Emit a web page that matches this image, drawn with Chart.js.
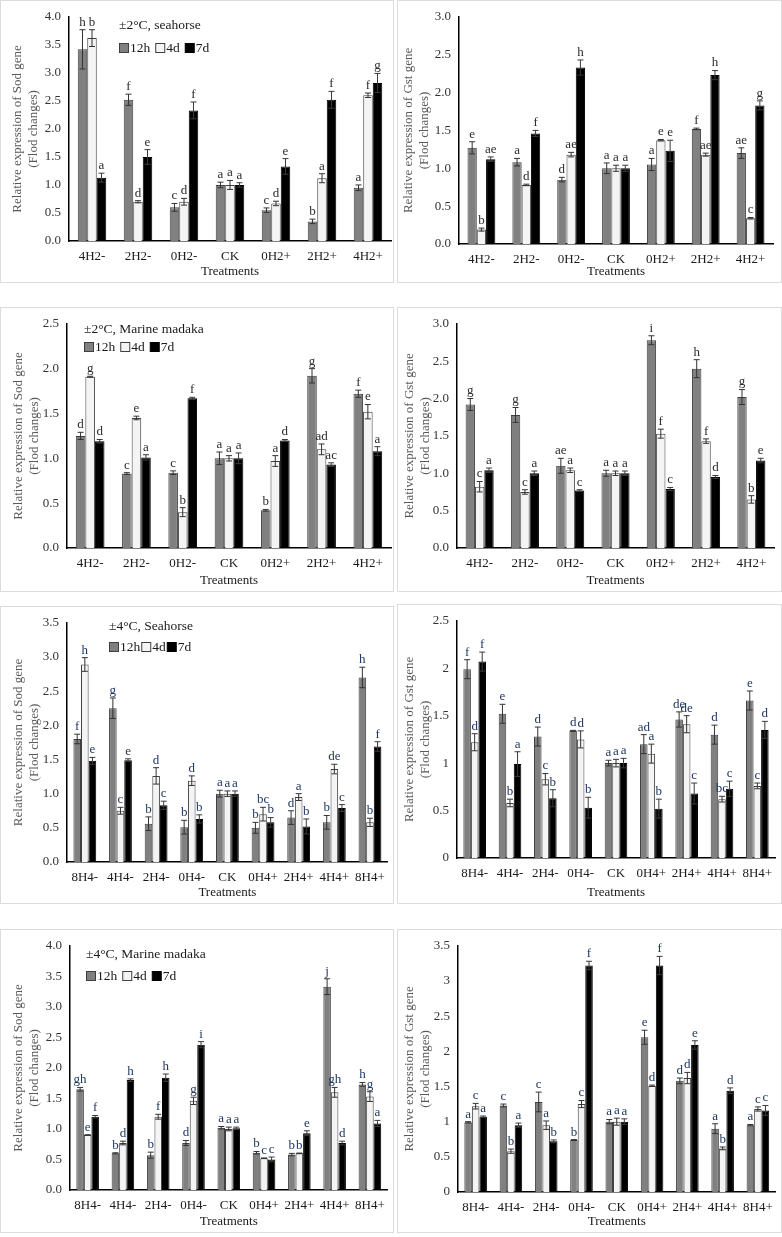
<!DOCTYPE html>
<html>
<head>
<meta charset="utf-8">
<script src="https://cdn.jsdelivr.net/npm/chart.js@4.4.1/dist/chart.umd.min.js"></script>
<style>
  html, body { margin: 0; padding: 0; background: #fff; }
  body { width: 782px; height: 1237px; position: relative; overflow: hidden; }
  .panel { position: absolute; box-sizing: border-box; border: 1px solid #dcdcdc; background: #fff; }
  .panel canvas { display: block; }
</style>
</head>
<body>
<div id="figure"></div>
<script>
// categories
const cats2 = ['4H2-', '2H2-', '0H2-', 'CK', '0H2+', '2H2+', '4H2+'];
const cats4 = ['8H4-', '4H4-', '2H4-', '0H4-', 'CK', '0H4+', '2H4+', '4H4+', '8H4+'];
const seriesNames = ['12h', '4d', '7d'];

// ±2°C seahorse, Sod  (rows: 12h, 4d, 7d)
const sodSh2Vals = [[3.42, 2.52, 0.60, 1.00, 0.55, 0.35, 0.95], [3.62, 0.70, 0.70, 1.00, 0.67, 1.12, 2.60], [1.13, 1.50, 2.33, 1.00, 1.33, 2.52, 2.82]];
const sodSh2Errs = [[0.35, 0.10, 0.07, 0.05, 0.04, 0.04, 0.05], [0.15, 0.02, 0.06, 0.08, 0.04, 0.08, 0.04], [0.08, 0.13, 0.15, 0.04, 0.14, 0.15, 0.17]];
const sodSh2Lets = [['h', 'f', 'c', 'a', 'c', 'b', 'a'], ['b', 'd', 'd', 'a', 'd', 'a', 'f'], ['a', 'e', 'f', 'a', 'e', 'f', 'g']];

// ±2°C seahorse, Gst
const gstSh2Vals = [[1.27, 1.08, 0.85, 1.00, 1.05, 1.52, 1.20], [0.19, 0.78, 1.18, 1.00, 1.37, 1.18, 0.34], [1.12, 1.46, 2.33, 1.00, 1.23, 2.23, 1.83]];
const gstSh2Errs = [[0.08, 0.05, 0.03, 0.07, 0.08, 0.01, 0.07], [0.02, 0.01, 0.03, 0.04, 0.01, 0.02, 0.01], [0.03, 0.04, 0.10, 0.04, 0.14, 0.06, 0.06]];
const gstSh2Lets = [['e', 'a', 'd', 'a', 'a', 'f', 'ae'], ['b', 'd', 'ae', 'a', 'e', 'ae', 'c'], ['ae', 'f', 'h', 'a', 'e', 'h', 'g']];

// ±2°C marine medaka, Sod
const sodMd2Vals = [[1.25, 0.83, 0.84, 1.00, 0.42, 1.92, 1.72], [1.91, 1.45, 0.40, 1.00, 0.97, 1.10, 1.52], [1.19, 1.01, 1.67, 1.00, 1.20, 0.93, 1.08]];
const sodMd2Errs = [[0.04, 0.01, 0.02, 0.07, 0.01, 0.08, 0.04], [0.005, 0.02, 0.05, 0.03, 0.06, 0.06, 0.08], [0.02, 0.03, 0.01, 0.06, 0.01, 0.02, 0.05]];
const sodMd2Lets = [['d', 'c', 'c', 'a', 'b', 'g', 'f'], ['g', 'e', 'b', 'a', 'a', 'ad', 'e'], ['d', 'a', 'f', 'a', 'd', 'ac', 'a']];

// ±2°C marine medaka, Gst
const gstMd2Vals = [[1.92, 1.78, 1.10, 1.00, 2.78, 2.40, 2.02], [0.82, 0.75, 1.04, 1.00, 1.53, 1.43, 0.65], [1.04, 1.00, 0.77, 1.00, 0.79, 0.95, 1.17]];
const gstMd2Errs = [[0.08, 0.10, 0.10, 0.04, 0.06, 0.12, 0.10], [0.07, 0.03, 0.03, 0.03, 0.06, 0.03, 0.05], [0.03, 0.03, 0.01, 0.03, 0.02, 0.02, 0.03]];
const gstMd2Lets = [['g', 'g', 'ae', 'a', 'i', 'h', 'g'], ['c', 'c', 'a', 'a', 'f', 'f', 'b'], ['a', 'a', 'c', 'a', 'c', 'd', 'e']];

// ±4°C seahorse, Sod
const sodSh4Vals = [[1.80, 2.25, 0.56, 0.51, 1.00, 0.50, 0.65, 0.58, 2.70], [2.89, 0.75, 1.26, 1.19, 1.00, 0.70, 0.95, 1.36, 0.58], [1.48, 1.49, 0.83, 0.63, 1.00, 0.58, 0.52, 0.79, 1.69]];
const sodSh4Errs = [[0.07, 0.15, 0.10, 0.10, 0.05, 0.08, 0.10, 0.10, 0.15], [0.10, 0.05, 0.12, 0.07, 0.04, 0.10, 0.05, 0.07, 0.06], [0.05, 0.02, 0.06, 0.06, 0.04, 0.07, 0.11, 0.05, 0.07]];
const sodSh4Lets = [['f', 'g', 'b', 'b', 'a', 'b', 'd', 'b', 'h'], ['h', 'c', 'd', 'd', 'a', 'bc', 'a', 'de', 'b'], ['e', 'e', 'c', 'b', 'a', 'b', 'b', 'c', 'f']];

// ±4°C seahorse, Gst
const gstSh4Vals = [[1.99, 1.52, 1.28, 1.34, 1.00, 1.20, 1.46, 1.30, 1.66], [1.22, 0.58, 0.83, 1.25, 1.00, 1.10, 1.41, 0.62, 0.76], [2.07, 0.99, 0.63, 0.53, 1.00, 0.52, 0.68, 0.73, 1.35]];
const gstSh4Errs = [[0.10, 0.10, 0.10, 0.005, 0.03, 0.10, 0.08, 0.10, 0.10], [0.09, 0.04, 0.06, 0.09, 0.04, 0.10, 0.09, 0.03, 0.03], [0.10, 0.13, 0.09, 0.11, 0.05, 0.10, 0.11, 0.08, 0.09]];
const gstSh4Lets = [['f', 'e', 'd', 'd', 'a', 'ad', 'de', 'd', 'e'], ['d', 'b', 'c', 'd', 'a', 'a', 'de', 'bc', 'c'], ['f', 'a', 'b', 'b', 'a', 'b', 'c', 'c', 'd']];

// ±4°C marine medaka, Sod
const sodMd4Vals = [[1.65, 0.60, 0.57, 0.77, 1.02, 0.61, 0.58, 3.33, 1.73], [0.90, 0.77, 1.20, 1.46, 1.00, 0.52, 0.60, 1.60, 1.53], [1.20, 1.80, 1.84, 2.38, 1.01, 0.50, 0.93, 0.77, 1.09]];
const sodMd4Errs = [[0.03, 0.01, 0.05, 0.04, 0.02, 0.02, 0.02, 0.13, 0.03], [0.005, 0.03, 0.04, 0.06, 0.03, 0.005, 0.005, 0.08, 0.08], [0.02, 0.02, 0.06, 0.05, 0.02, 0.04, 0.04, 0.03, 0.05]];
const sodMd4Lets = [['gh', 'b', 'b', 'd', 'a', 'b', 'b', 'j', 'h'], ['e', 'd', 'f', 'g', 'a', 'c', 'b', 'gh', 'g'], ['f', 'h', 'h', 'i', 'a', 'c', 'e', 'd', 'a']];

// ±4°C marine medaka, Gst
const gstMd4Vals = [[0.99, 1.23, 1.28, 0.74, 1.00, 2.20, 1.58, 0.90, 0.95], [1.22, 0.58, 0.95, 1.25, 1.00, 1.51, 1.62, 0.62, 1.18], [1.07, 0.95, 0.72, 3.22, 1.00, 3.22, 2.09, 1.44, 1.16]];
const gstMd4Errs = [[0.01, 0.02, 0.14, 0.005, 0.03, 0.10, 0.04, 0.07, 0.01], [0.04, 0.03, 0.06, 0.05, 0.05, 0.01, 0.08, 0.02, 0.03], [0.01, 0.03, 0.02, 0.06, 0.04, 0.13, 0.06, 0.04, 0.07]];
const gstMd4Lets = [['a', 'c', 'c', 'b', 'a', 'e', 'd', 'a', 'a'], ['c', 'b', 'a', 'c', 'a', 'd', 'd', 'b', 'c'], ['a', 'a', 'b', 'f', 'a', 'f', 'e', 'd', 'c']];

const FONT = '"Liberation Serif", "Times New Roman", serif';
const barFill = ['#808080', '#f4f4f4', '#000000'];
const barEdge = ['#3f3f3f', '#3f3f3f', '#000000'];

// panel boxes and look
const panels = [
  { box: [0, 0, 394, 283], cats: cats2, vals: sodSh2Vals, errs: sodSh2Errs, lets: sodSh2Lets, gene: 'Sod', yMax: 4, dec: true,
    axisW: 68, padT: 13, padR: 2, xH: 41, titleTop: 9, head: '±2°C, seahorse', hx: 118, hy: 24, ly: 47, gap: 5, letCol: '#2b2b2b' },
  { box: [397, 0, 385, 283], cats: cats2, vals: gstSh2Vals, errs: gstSh2Errs, lets: gstSh2Lets, gene: 'Gst', yMax: 3, dec: true,
    axisW: 61, padT: 12, padR: 8, xH: 38, titleTop: 3, head: null, letCol: '#2b2b2b' },
  { box: [0, 307, 394, 285], cats: cats2, vals: sodMd2Vals, errs: sodMd2Errs, lets: sodMd2Lets, gene: 'Sod', yMax: 2.5, dec: true,
    axisW: 66, padT: 10, padR: 2, xH: 43, titleTop: 10, head: '±2°C, Marine madaka', hx: 83, hy: 21, ly: 39, gap: 5, letCol: '#2b2b2b' },
  { box: [397, 307, 385, 285], cats: cats2, vals: gstMd2Vals, errs: gstMd2Errs, lets: gstMd2Lets, gene: 'Gst', yMax: 3, dec: true,
    axisW: 59, padT: 10, padR: 7, xH: 43, titleTop: 4, head: null, letCol: '#2b2b2b' },
  { box: [0, 606, 394, 298], cats: cats4, vals: sodSh4Vals, errs: sodSh4Errs, lets: sodSh4Lets, gene: 'Sod', yMax: 3.5, dec: true,
    axisW: 66, padT: 10, padR: 3, xH: 41, titleTop: 10, head: '±4°C, Seahorse', hx: 108, hy: 19, ly: 40, gap: 1, letCol: '#1f3763' },
  { box: [397, 604, 385, 300], cats: cats4, vals: gstSh4Vals, errs: gstSh4Errs, lets: gstSh4Lets, gene: 'Gst', yMax: 2.5, dec: false,
    axisW: 59, padT: 12, padR: 6, xH: 45, titleTop: 4, head: null, letCol: '#1f3763' },
  { box: [0, 929, 394, 304], cats: cats4, vals: sodMd4Vals, errs: sodMd4Errs, lets: sodMd4Lets, gene: 'Sod', yMax: 4, dec: true,
    axisW: 69, padT: 11, padR: 4, xH: 42, titleTop: 10, head: '±4°C, Marine madaka', hx: 85, hy: 24, ly: 46, gap: 5, letCol: '#1f3763' },
  { box: [397, 929, 385, 304], cats: cats4, vals: gstMd4Vals, errs: gstMd4Errs, lets: gstMd4Lets, gene: 'Gst', yMax: 3.5, dec: false,
    axisW: 60, padT: 11, padR: 4, xH: 40, titleTop: 4, head: null, letCol: '#1f3763' }
];

// error bars + significance letters
const errorLetters = {
  id: 'errorLetters',
  afterDatasetsDraw(chart, args, opts) {
    const ctx = chart.ctx;
    const y = chart.scales.y;
    ctx.save();
    chart.data.datasets.forEach((ds, i) => {
      const meta = chart.getDatasetMeta(i);
      meta.data.forEach((bar, j) => {
        const v = ds.data[j];
        const e = ds.errs[j];
        const yTop = y.getPixelForValue(v + e);
        const yBot = y.getPixelForValue(v - e);
        ctx.strokeStyle = i === 2 ? '#3a3a3a' : '#333';
        ctx.lineWidth = 1;
        ctx.beginPath();
        ctx.moveTo(bar.x, yTop);
        ctx.lineTo(bar.x, yBot);
        ctx.moveTo(bar.x - 3, yTop);
        ctx.lineTo(bar.x + 3, yTop);
        ctx.moveTo(bar.x - 3, yBot);
        ctx.lineTo(bar.x + 3, yBot);
        ctx.stroke();
        ctx.fillStyle = opts.color;
        ctx.font = '13px ' + FONT;
        ctx.textAlign = 'center';
        ctx.textBaseline = 'bottom';
        ctx.fillText(ds.lets[j], bar.x, yTop - 1);
      });
    });
    ctx.restore();
  }
};

// heading + legend drawn inside the plot
const panelLegend = {
  id: 'panelLegend',
  afterDraw(chart, args, opts) {
    if (!opts.head) return;
    const ctx = chart.ctx;
    ctx.save();
    ctx.font = '13.5px ' + FONT;
    ctx.fillStyle = '#1a1a1a';
    ctx.textBaseline = 'middle';
    ctx.textAlign = 'left';
    ctx.fillText(opts.head, opts.hx, opts.hy);
    let x = opts.hx;
    seriesNames.forEach((name, i) => {
      ctx.fillStyle = barFill[i];
      ctx.strokeStyle = barEdge[i];
      ctx.lineWidth = 1;
      ctx.fillRect(x + 0.5, opts.ly - 4.5, 9, 9);
      ctx.strokeRect(x + 0.5, opts.ly - 4.5, 9, 9);
      x += 11;
      ctx.fillStyle = '#1a1a1a';
      ctx.fillText(name, x, opts.ly);
      x += ctx.measureText(name).width + opts.gap;
    });
    ctx.restore();
  }
};

const fig = document.getElementById('figure');

panels.forEach(p => {
  const [left, top, w, h] = p.box;
  const div = document.createElement('div');
  div.className = 'panel';
  div.style.left = left + 'px';
  div.style.top = top + 'px';
  div.style.width = w + 'px';
  div.style.height = h + 'px';
  const canvas = document.createElement('canvas');
  div.appendChild(canvas);
  fig.appendChild(div);

  const datasets = seriesNames.map((name, i) => ({
    label: name,
    data: p.vals[i],
    errs: p.errs[i],
    lets: p.lets[i],
    backgroundColor: barFill[i],
    borderColor: barEdge[i],
    borderWidth: 1,
    categoryPercentage: p.cats.length === 9 ? 0.64 : 0.62,
    barPercentage: 1.0
  }));

  new Chart(canvas, {
    type: 'bar',
    data: { labels: p.cats, datasets: datasets },
    options: {
      responsive: true,
      maintainAspectRatio: false,
      animation: false,
      events: [],
      layout: { padding: { top: p.padT, right: p.padR, left: 0, bottom: 0 } },
      plugins: {
        legend: { display: false },
        tooltip: { enabled: false },
        errorLetters: { color: p.letCol },
        panelLegend: { head: p.head, hx: p.hx, hy: p.hy, ly: p.ly, gap: p.gap }
      },
      scales: {
        x: {
          grid: { display: false, drawTicks: false },
          border: { color: '#000', width: 1.5 },
          ticks: { color: '#1a1a1a', padding: 8, maxRotation: 0, autoSkip: false, font: { family: FONT, size: 13 } },
          title: { display: true, text: 'Treatments', color: '#1a1a1a', padding: { top: 0, bottom: 3 }, font: { family: FONT, size: 13 } },
          afterFit: s => { s.height = p.xH; }
        },
        y: {
          min: 0,
          max: p.yMax,
          grid: { display: false, drawTicks: false },
          border: { color: '#000', width: 1.5 },
          ticks: {
            stepSize: 0.5,
            color: '#333',
            padding: 8,
            font: { family: FONT, size: 13 },
            callback: v => p.dec ? v.toFixed(1) : String(v)
          },
          title: {
            display: true,
            text: ['Relative expression of ' + p.gene + ' gene', '(Flod changes)'],
            color: '#595959',
            padding: { top: p.titleTop, bottom: 0 },
            font: { family: FONT, size: 13, lineHeight: 1.2 }
          },
          afterFit: s => { s.width = p.axisW; }
        }
      }
    },
    plugins: [errorLetters, panelLegend]
  });
});
</script>
</body>
</html>
